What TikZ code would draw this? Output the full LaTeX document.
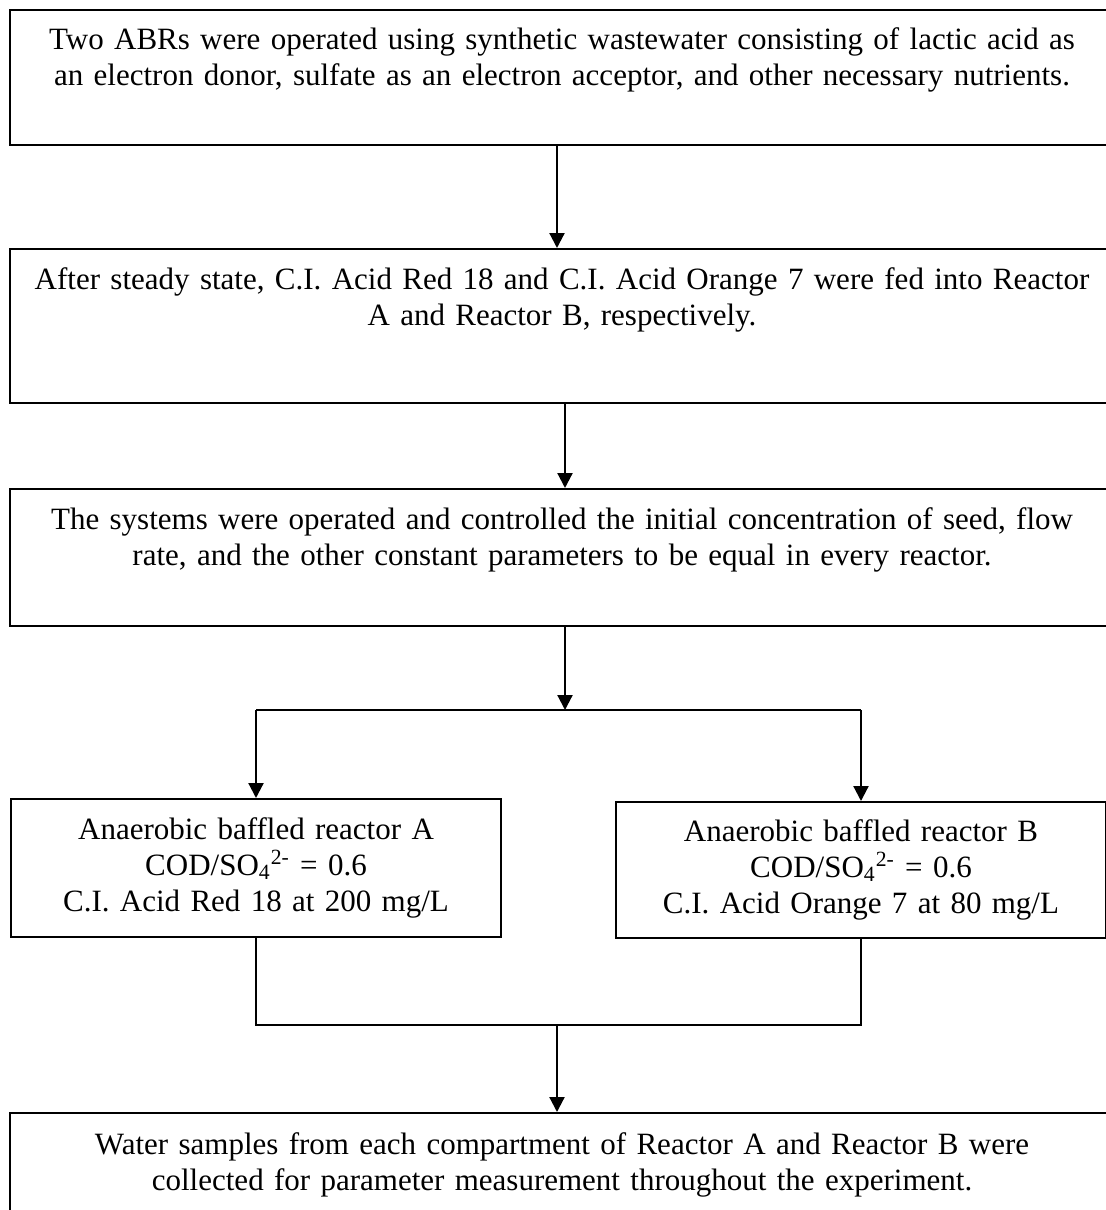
\documentclass[tikz,border=0pt]{standalone}
\usepackage{fontspec}
\setmainfont{Liberation Serif}
\usetikzlibrary{arrows.meta}
\begin{document}
\begin{tikzpicture}[x=0.5pt,y=-0.5pt,
  flowbox/.style={draw, line width=1pt, inner sep=0pt, anchor=north west,
    align=center, font=\fontsize{15.5pt}{18pt}\selectfont},
  flow/.style={line width=1.1pt, -{Triangle[width=7.5pt,length=7.5pt]}},
  joinline/.style={line width=0.7pt}]
\useasboundingbox (0,0) rectangle (1106,1210);
\clip (0,0) rectangle (1106,1210);

% process steps
\node[flowbox, text width=552pt, text height=19.5pt, text depth=48pt] (b1) at (9,9)
  {Two ABRs were operated using synthetic wastewater consisting of lactic acid as\\
   an electron donor, sulfate as an electron acceptor, and other necessary nutrients.};
\node[flowbox, text width=552pt, text height=20pt, text depth=57pt] (b2) at (9,248)
  {After steady state, C.I. Acid Red 18 and C.I. Acid Orange 7 were fed into Reactor\\
   A and Reactor B, respectively.};
\node[flowbox, text width=552pt, text height=20pt, text depth=48.5pt] (b3) at (9,488)
  {The systems were operated and controlled the initial concentration of seed, flow\\
   rate, and the other constant parameters to be equal in every reactor.};

% the two reactors
\node[flowbox, text width=245pt, text height=20pt, text depth=49pt] (ra) at (10,798)
  {Anaerobic baffled reactor A\\
   COD/SO\textsubscript{4}\textsuperscript{2-} = 0.6\\
   C.I. Acid Red 18 at 200 mg/L};
\node[flowbox, text width=245pt, text height=19.5pt, text depth=48.5pt] (rb) at (615,801)
  {Anaerobic baffled reactor B\\
   COD/SO\textsubscript{4}\textsuperscript{2-} = 0.6\\
   C.I. Acid Orange 7 at 80 mg/L};

% sampling
\node[flowbox, text width=552pt, text height=20.5pt, text depth=80pt] (b4) at (9,1112)
  {Water samples from each compartment of Reactor A and Reactor B were\\
   collected for parameter measurement throughout the experiment.};

% connector positions
\coordinate (c1) at (557,0);
\coordinate (c2) at (565,0);
\coordinate (split) at (565,710);
\coordinate (merge) at (557,1025);

\draw[flow] (b1.south -| c1) -- (b2.north -| c1);
\draw[flow] (b2.south -| c2) -- (b3.north -| c2);
\draw[flow] (b3.south -| split) -- (split);
\draw[line width=1.1pt] (ra.north |- split) -- (rb.north |- split);
\draw[flow] (ra.north |- split) -- (ra.north);
\draw[flow] (rb.north |- split) -- (rb.north);
\draw[joinline] (ra.south) -- (ra.south |- merge) -- (rb.south |- merge) -- (rb.south);
\draw[flow] (merge) -- (b4.north -| merge);
\end{tikzpicture}
\end{document}
